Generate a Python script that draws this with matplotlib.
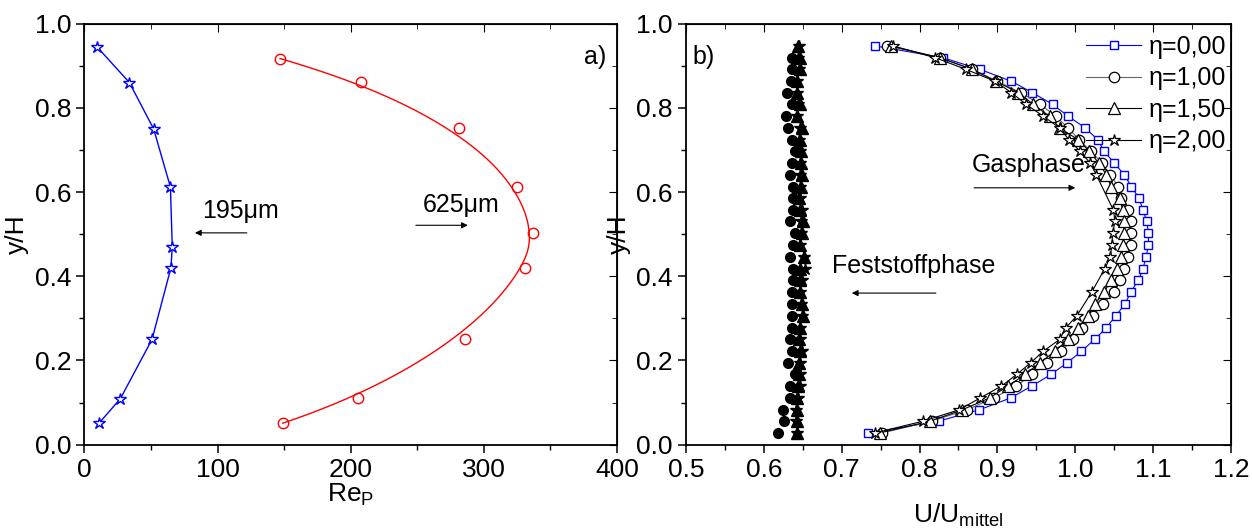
import numpy as np
import matplotlib
matplotlib.use("Agg")
import matplotlib.pyplot as plt
from matplotlib.ticker import MultipleLocator

plt.rcParams['font.family'] = ['Liberation Sans', 'DejaVu Sans']
plt.rcParams['font.size'] = 18

# ---- panel a): particle Reynolds number ----
y_195 = [0.944, 0.860, 0.750, 0.612, 0.470, 0.420, 0.250, 0.109, 0.051]
re_195 = [9.7, 33.8, 52.0, 64.6, 66.0, 65.0, 50.8, 27.0, 11.0]

y_625 = [0.917, 0.861, 0.751, 0.612, 0.502, 0.420, 0.250, 0.111, 0.051]
re_625 = [147.0, 207.5, 281.0, 325.0, 337.0, 331.0, 285.5, 205.4, 149.0]

# ---- panel b): gas phase profiles ----
y_gas = [0.947, 0.919, 0.891, 0.863, 0.836, 0.808, 0.780, 0.752, 0.724, 0.697,
         0.669, 0.641, 0.613, 0.585, 0.557, 0.530, 0.502, 0.474, 0.446, 0.418,
         0.390, 0.362, 0.334, 0.306, 0.278, 0.250, 0.222, 0.195, 0.167, 0.139,
         0.111, 0.083, 0.056, 0.028]
u_eta000 = [0.743, 0.830, 0.878, 0.918, 0.945, 0.971, 0.991, 1.013, 1.029, 1.037,
            1.050, 1.063, 1.072, 1.082, 1.087, 1.092, 1.094, 1.094, 1.091, 1.087,
            1.081, 1.071, 1.064, 1.052, 1.040, 1.025, 1.008, 0.990, 0.969, 0.944,
            0.917, 0.877, 0.825, 0.734]
u_eta100 = [0.758, 0.826, 0.868, 0.900, 0.930, 0.955, 0.975, 0.991, 1.005, 1.020,
            1.034, 1.045, 1.055, 1.059, 1.068, 1.071, 1.072, 1.072, 1.068, 1.063,
            1.058, 1.050, 1.035, 1.023, 1.009, 0.997, 0.982, 0.964, 0.945, 0.924,
            0.895, 0.861, 0.816, 0.752]
u_eta150 = [0.763, 0.826, 0.868, 0.898, 0.927, 0.946, 0.967, 0.980, 1.004, 1.018,
            1.030, 1.040, 1.046, 1.057, 1.061, 1.063, 1.063, 1.061, 1.059, 1.053,
            1.046, 1.037, 1.025, 1.016, 1.004, 0.991, 0.974, 0.955, 0.936, 0.913,
            0.890, 0.855, 0.814, 0.749]
y_gas_eta200 = [0.947, 0.919, 0.891, 0.863, 0.836, 0.808, 0.780, 0.752, 0.724, 0.697,
                0.669, 0.641, 0.557, 0.530, 0.502, 0.474, 0.446, 0.418, 0.362, 0.306,
                0.278, 0.250, 0.222, 0.195, 0.167, 0.139, 0.111, 0.083, 0.056, 0.028]
u_eta200 = [0.766, 0.820, 0.860, 0.897, 0.918, 0.937, 0.959, 0.980, 0.992, 1.006,
            1.019, 1.027, 1.049, 1.051, 1.048, 1.047, 1.045, 1.038, 1.021, 1.002,
            0.988, 0.980, 0.959, 0.943, 0.925, 0.905, 0.878, 0.851, 0.805, 0.743]

# ---- panel b): solid phase profiles ----
y_solid_c = y_gas[1:]
u_solid_c = [0.636, 0.636, 0.635, 0.630, 0.636, 0.628, 0.631, 0.636, 0.640,
             0.636, 0.634, 0.638, 0.637, 0.637, 0.634, 0.640, 0.637, 0.634, 0.638,
             0.637, 0.636, 0.636, 0.636, 0.636, 0.633, 0.636, 0.631, 0.640, 0.633,
             0.634, 0.624, 0.626, 0.618]
u_solid_t = [0.644, 0.646, 0.646, 0.643, 0.643, 0.647, 0.643, 0.649, 0.647, 0.648,
             0.648, 0.649, 0.648, 0.645, 0.646, 0.650, 0.649, 0.646, 0.651, 0.647,
             0.646, 0.646, 0.649, 0.650, 0.646, 0.645, 0.646, 0.645, 0.645, 0.644,
             0.643, 0.642, 0.643, 0.643]
u_solid_s = [0.645, 0.644, 0.645, 0.642, 0.642, 0.644, 0.642, 0.646, 0.645, 0.646,
             0.647, 0.647, 0.646, 0.647, 0.649, 0.648, 0.648, 0.647, 0.651, 0.653,
             0.649, 0.647, 0.648, 0.649, 0.646, 0.646, 0.649, 0.647, 0.647, 0.646,
             0.644, 0.641, 0.641, 0.642]


def bspline(px, py, n=300, k=3):
    # clamped uniform B-spline using the data points as control points
    px, py = np.asarray(px, float), np.asarray(py, float)
    m = len(px)
    inner = np.arange(1, m - k) / (m - k)
    t = np.concatenate([np.zeros(k + 1), inner, np.ones(k + 1)])
    u = np.linspace(0, 1, n)
    u[-1] -= 1e-9
    N = np.zeros((n, len(t) - 1))
    for i in range(len(t) - 1):
        N[:, i] = (u >= t[i]) & (u < t[i + 1])
    for d in range(1, k + 1):
        Nn = np.zeros((n, len(t) - 1 - d))
        for i in range(len(t) - 1 - d):
            a = 0.0 if t[i + d] == t[i] else (u - t[i]) / (t[i + d] - t[i])
            b = 0.0 if t[i + d + 1] == t[i + 1] else (t[i + d + 1] - u) / (t[i + d + 1] - t[i + 1])
            Nn[:, i] = a * N[:, i] + b * N[:, i + 1]
        N = Nn
    return N @ px, N @ py


def style_axes(ax, xmaj, xmin):
    ax.xaxis.set_major_locator(MultipleLocator(xmaj))
    ax.xaxis.set_minor_locator(MultipleLocator(xmin))
    ax.yaxis.set_major_locator(MultipleLocator(0.2))
    ax.yaxis.set_minor_locator(MultipleLocator(0.1))
    ax.tick_params(which='major', direction='out', length=6, width=1.1, labelsize=19)
    ax.tick_params(which='minor', direction='out', length=3.5, width=1.0)
    for s in ax.spines.values():
        s.set_linewidth(1.3)
    top = ax.secondary_xaxis('top')
    top.xaxis.set_major_locator(MultipleLocator(xmaj))
    top.xaxis.set_minor_locator(MultipleLocator(xmin))
    top.tick_params(which='major', direction='in', length=6, labeltop=False)
    top.tick_params(which='minor', direction='in', length=3.5)
    right = ax.secondary_yaxis('right')
    right.yaxis.set_major_locator(MultipleLocator(0.2))
    right.yaxis.set_minor_locator(MultipleLocator(0.1))
    right.tick_params(which='major', direction='in', length=6, labelright=False)
    right.tick_params(which='minor', direction='in', length=3.5)


def arrow(ax, x0, x1, y):
    ax.annotate('', xy=(x1, y), xytext=(x0, y),
                arrowprops=dict(arrowstyle='-|>', color='black', lw=0.8,
                                mutation_scale=9, shrinkA=0, shrinkB=0))


fig = plt.figure(figsize=(12.52, 5.30), dpi=100)
ax1 = fig.add_axes([0.0674, 0.161, 0.4254, 0.7945])
ax2 = fig.add_axes([0.5479, 0.161, 0.4353, 0.7945])

# panel a
ax1.plot(re_195, y_195, color='blue', lw=1.0, marker='*', ms=9, mfc='white',
         mec='blue', mew=1.0)
sx, sy = bspline(re_625, y_625)
ax1.plot(sx, sy, color='red', lw=1.0)
ax1.plot(re_625, y_625, ls='none', marker='o', ms=7.5, mfc='none', mec='red', mew=1.0)
ax1.set_xlim(0, 400)
ax1.set_ylim(0, 1.0)
style_axes(ax1, 100, 50)
ax1.set_xlabel('Re$_\\mathregular{P}$', fontsize=19, labelpad=0)
ax1.set_ylabel('y/H', fontsize=19, labelpad=4)
ax1.text(392, 0.92, 'a)', ha='right', va='center', fontsize=18)
ax1.text(117, 0.555, '195μm', ha='center', va='center', fontsize=18)
arrow(ax1, 122, 83, 0.503)
ax1.text(283, 0.569, '625μm', ha='center', va='center', fontsize=18)
arrow(ax1, 249, 288, 0.521)

# panel b: solid phase
ax2.plot(u_solid_c, y_solid_c, ls='none', marker='o', ms=7, color='black')
ax2.plot(u_solid_t, y_gas, ls='none', marker='^', ms=8, color='black')
ax2.plot(u_solid_s, y_gas, ls='none', marker='*', ms=9, color='black')

# panel b: gas phase
ax2.plot(u_eta000, y_gas, color='blue', lw=0.8, marker='s', ms=6, mfc='white',
         mec='blue', mew=1.0, label='η=0,00')
ax2.plot(u_eta100, y_gas, color='#666666', lw=0.8, marker='o', ms=7.5, mfc='white',
         mec='black', mew=0.9, label='η=1,00')
ax2.plot(u_eta150, y_gas, color='black', lw=0.8, marker='^', ms=8, mfc='white',
         mec='black', mew=0.9, label='η=1,50')
ax2.plot(u_eta200, y_gas_eta200, color='black', lw=0.8, marker='*', ms=9,
         mfc='white', mec='black', mew=0.9, label='η=2,00')

ax2.set_xlim(0.5, 1.2)
ax2.set_ylim(0, 1.0)
style_axes(ax2, 0.1, 0.05)
ax2.set_xlabel('U/U$_\\mathregular{mittel}$', fontsize=19, labelpad=14)
ax2.set_ylabel('y/H', fontsize=19, labelpad=4)
ax2.text(0.523, 0.92, 'b)', ha='center', va='center', fontsize=18)
ax2.text(0.940, 0.663, 'Gasphase', ha='center', va='center', fontsize=18)
arrow(ax2, 0.870, 1.0, 0.61)
ax2.text(0.793, 0.425, 'Feststoffphase', ha='center', va='center', fontsize=18)
arrow(ax2, 0.821, 0.713, 0.36)

leg = ax2.legend(loc='upper right', bbox_to_anchor=(1.012, 1.0), frameon=False,
                 fontsize=18, handlelength=2.2, handletextpad=0.3,
                 labelspacing=0.3, borderaxespad=0.05)

fig.savefig('out.png', dpi=100)
